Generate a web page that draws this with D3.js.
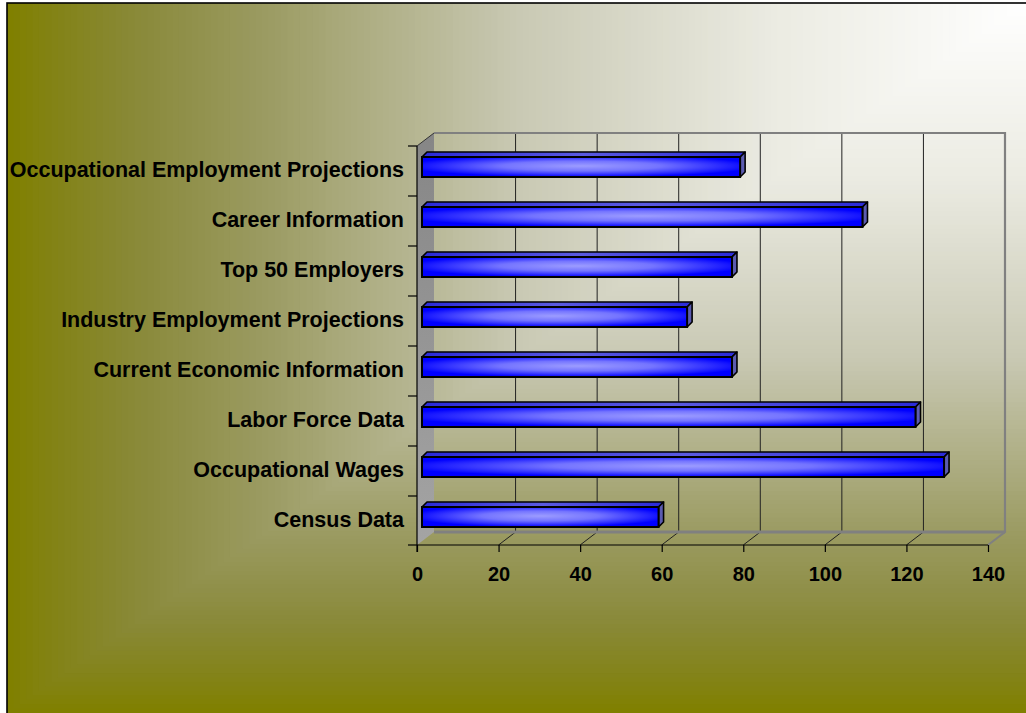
<!DOCTYPE html>
<html>
<head>
<meta charset="utf-8">
<script src="https://cdn.jsdelivr.net/npm/d3@7"></script>
<style>
  html, body { margin: 0; padding: 0; background: #fff; }
  svg { display: block; }
  text { font-family: "Liberation Sans", Arial, sans-serif; font-weight: bold; fill: #000; }
</style>
</head>
<body>
<svg id="chart" width="1026" height="713"></svg>
<script>
// Page hits by section
const categories = [
  "Occupational Employment Projections",
  "Career Information",
  "Top 50 Employers",
  "Industry Employment Projections",
  "Current Economic Information",
  "Labor Force Data",
  "Occupational Wages",
  "Census Data"
];
const values = [78, 108, 76, 65, 76, 121, 128, 58];
const xTicks = [0, 20, 40, 60, 80, 100, 120, 140];

const W = 1026, H = 713;
const svg = d3.select("#chart");
const defs = svg.append("defs");

// ---- background: rectangular gradient spreading out from the top-right corner ----
const bgColor = d3.scaleLinear()
  .domain([0, 0.25, 0.5, 0.75, 0.87, 0.95, 1])
  .range(["#ffffff", "#ebebe2", "#c9c9b4", "#9b9b62", "#8a8a3b", "#838319", "#808000"])
  .interpolate(d3.interpolateRgb)
  .clamp(true);

const bg = svg.append("g");
const steps = d3.range(160, 0, -1);
const bx0 = 7, by0 = 3, bw = W - bx0, bh = H - by0;
bg.selectAll("rect").data(steps).join("rect")
  .attr("x", k => bx0 + bw - bw * k / 160)
  .attr("y", by0)
  .attr("width", k => bw * k / 160 + 1)
  .attr("height", k => bh * k / 160)
  .attr("fill", k => bgColor(k / 160));

svg.append("rect")
  .attr("x", bx0).attr("y", by0)
  .attr("width", W).attr("height", H)
  .attr("fill", "none").attr("stroke", "#000").attr("stroke-width", 1.6);

// ---- scales (front plane) ----
const x = d3.scaleLinear().domain([0, 140]).range([417, 988]);
const y = d3.scaleBand().domain(categories).range([146, 546]).paddingInner(0).paddingOuter(0);
const depth = { dx: 17, dy: -13 };          // chart depth
const barFront = { dx: 5, dy: -4 };         // bar front face offset into the depth
const barDepth = { dx: 5, dy: -5 };         // bar thickness in depth
const barH = 20;

const yTop = y.range()[0], yBot = y.range()[1] - 1;
const xL = x(0), xR = x(140);

// ---- left wall ----
const wallGrad = defs.append("linearGradient").attr("id", "wall")
  .attr("x1", 0).attr("y1", 0).attr("x2", 0).attr("y2", 1);
wallGrad.append("stop").attr("offset", 0).attr("stop-color", "#868686");
wallGrad.append("stop").attr("offset", 1).attr("stop-color", "#a4a4a4");

svg.append("path")
  .attr("d", `M${xL},${yTop}L${xL + depth.dx},${yTop + depth.dy}L${xL + depth.dx},${yBot + depth.dy}L${xL},${yBot}Z`)
  .attr("fill", "url(#wall)");
svg.append("line")
  .attr("x1", xL).attr("y1", yTop).attr("x2", xL + depth.dx).attr("y2", yTop + depth.dy)
  .attr("stroke", "#333").attr("stroke-width", 1);

// ---- back wall gridlines and floor lines ----
const grid = svg.append("g");
grid.selectAll("line.v").data(xTicks.filter(d => d > 0 && d < 140)).join("line")
  .attr("class", "v")
  .attr("x1", d => x(d) + depth.dx).attr("x2", d => x(d) + depth.dx)
  .attr("y1", yTop + depth.dy).attr("y2", yBot + depth.dy)
  .attr("stroke", "#222").attr("stroke-width", 1);
grid.selectAll("line.f").data(xTicks.filter(d => d > 0 && d < 140)).join("line")
  .attr("class", "f")
  .attr("x1", d => x(d)).attr("y1", yBot)
  .attr("x2", d => x(d) + depth.dx).attr("y2", yBot + depth.dy)
  .attr("stroke", "#222").attr("stroke-width", 1);

// plot-area frame (grey)
const frame = svg.append("g").attr("fill", "none").attr("stroke", "#808080");
frame.append("path")
  .attr("d", `M${xL + depth.dx},${yTop + depth.dy}L${xR + depth.dx},${yTop + depth.dy}L${xR + depth.dx},${yBot + depth.dy}L${xR},${yBot}`)
  .attr("stroke-width", 2.2);
frame.append("line")
  .attr("x1", xL + depth.dx).attr("x2", xR + depth.dx)
  .attr("y1", yBot + depth.dy).attr("y2", yBot + depth.dy)
  .attr("stroke-width", 3);

// ---- bars ----
const frontGrad = defs.append("radialGradient").attr("id", "barFront")
  .attr("cx", 0.5).attr("cy", 0.45).attr("r", 0.55);
frontGrad.append("stop").attr("offset", 0).attr("stop-color", "#9c9cff");
frontGrad.append("stop").attr("offset", 0.45).attr("stop-color", "#7474ff");
frontGrad.append("stop").attr("offset", 1).attr("stop-color", "#0000ff");

const topGrad = defs.append("linearGradient").attr("id", "barTop")
  .attr("x1", 0).attr("x2", 1).attr("y1", 0).attr("y2", 0);
topGrad.append("stop").attr("offset", 0).attr("stop-color", "#2a2ad8");
topGrad.append("stop").attr("offset", 0.5).attr("stop-color", "#5a5ae0");
topGrad.append("stop").attr("offset", 1).attr("stop-color", "#2a2ad8");

const bars = svg.append("g").selectAll("g").data(categories).join("g");
bars.each(function (c, i) {
  const g = d3.select(this);
  const v = values[i];
  const cy = y(c) + y.bandwidth() / 2 + barFront.dy;
  const fx0 = x(0) + barFront.dx, fx1 = x(v) + barFront.dx;
  const fy0 = cy - barH / 2, fy1 = cy + barH / 2;
  const ddx = barDepth.dx, ddy = barDepth.dy;
  // top face
  g.append("path")
    .attr("d", `M${fx0},${fy0}L${fx1},${fy0}L${fx1 + ddx},${fy0 + ddy}L${fx0 + ddx},${fy0 + ddy}Z`)
    .attr("fill", "url(#barTop)").attr("stroke", "#000").attr("stroke-width", 1.6)
    .attr("stroke-linejoin", "round");
  // end face
  g.append("path")
    .attr("d", `M${fx1},${fy0}L${fx1 + ddx},${fy0 + ddy}L${fx1 + ddx},${fy1 + ddy}L${fx1},${fy1}Z`)
    .attr("fill", "#5b5bb0").attr("stroke", "#000").attr("stroke-width", 1.6)
    .attr("stroke-linejoin", "round");
  // front face
  g.append("rect")
    .attr("x", fx0).attr("y", fy0)
    .attr("width", fx1 - fx0).attr("height", fy1 - fy0)
    .attr("fill", "url(#barFront)").attr("stroke", "#000").attr("stroke-width", 2);
});

// ---- axes ----
const xAxis = d3.axisBottom(x).tickValues(xTicks).tickSize(7).tickPadding(15).tickFormat(d3.format("d"));
const gx = svg.append("g").attr("transform", `translate(0,${yBot})`).call(xAxis);
gx.select(".domain").attr("stroke", "#000").attr("stroke-width", 1.2).attr("d", `M${xL},0H${xR}`);
gx.selectAll(".tick line").attr("stroke", "#000").attr("stroke-width", 1.2);
gx.selectAll(".tick text").style("font-size", "20px").style("font-family", "Liberation Sans, Arial, sans-serif")
  .style("font-weight", "bold").attr("fill", "#000");

const yAxis = d3.axisLeft(y).tickSize(0).tickPadding(13);
const gy = svg.append("g").attr("transform", `translate(${xL},0)`).call(yAxis);
gy.select(".domain").attr("stroke", "#000").attr("stroke-width", 1.2).attr("d", `M0,${yTop}V${yBot + 7}`);
gy.selectAll(".tick text").style("font-size", "21.5px").style("font-family", "Liberation Sans, Arial, sans-serif")
  .style("font-weight", "bold").attr("fill", "#000").attr("dy", "0.3em");

// category boundary ticks on the left axis
const bounds = categories.map(c => y(c)).concat([yBot]);
gy.append("g").selectAll("line").data(bounds).join("line")
  .attr("x1", -9).attr("x2", 0).attr("y1", d => d).attr("y2", d => d)
  .attr("stroke", "#000").attr("stroke-width", 1.2);
</script>
</body>
</html>
